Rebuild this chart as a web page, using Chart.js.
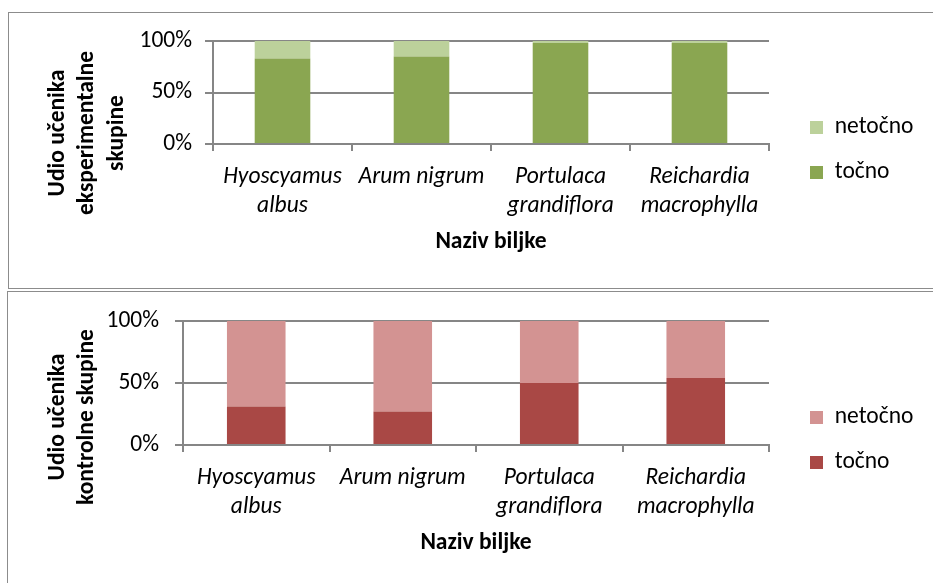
<!DOCTYPE html>
<html>
<head>
<meta charset="utf-8">
<script src="https://cdn.jsdelivr.net/npm/chart.js@4/dist/chart.umd.min.js"></script>
<style>
  html, body { margin: 0; padding: 0; background: #fff; }
  body { width: 933px; height: 583px; overflow: hidden; position: relative; }
  .frame { position: absolute; border: 1px solid #8c8c8c; box-sizing: border-box; }
  canvas { position: absolute; }
</style>
</head>
<body>
<div class="frame" style="left:8px; top:12px; width:1000px; height:277px;"></div>
<div class="frame" style="left:7px; top:291px; width:1000px; height:400px;"></div>
<canvas id="expChart" width="930" height="276" style="left:9px; top:13px;"></canvas>
<canvas id="ctrlChart" width="930" height="290" style="left:8px; top:291px;"></canvas>
<script>
const categories = [['Hyoscyamus', 'albus'], ['Arum nigrum'], ['Portulaca', 'grandiflora'], ['Reichardia', 'macrophylla']];
const seriesNames = ['točno', 'netočno'];
const expCorrect = [83, 85, 98, 98];
const expWrong = [17, 15, 2, 2];
const ctrlCorrect = [31, 27, 50, 54];
const ctrlWrong = [69, 73, 50, 46];
const yTickValues = [0, 50, 100];

const FONT = "'Carlito', 'Open Sans', sans-serif";
const SIZE = 23.5;
const GRID = '#868686';
const LEGEND_PAD = 21.5;
const GAP_W = 19.5;

// legend width depends on the text, so measure it to keep the plot edge fixed
const measureCtx = document.createElement('canvas').getContext('2d');
measureCtx.font = SIZE + 'px ' + FONT;
const legendTextW = Math.max(...seriesNames.map(n => measureCtx.measureText(n).width));
const legendW = LEGEND_PAD + 13 + SIZE / 2 + legendTextW + 10;

// rotated y-axis caption, centred on the whole frame like the original
const sideCaption = {
    id: 'sideCaption',
    afterDraw(chart, args, opts) {
        const ctx = chart.ctx;
        ctx.save();
        ctx.font = 'bold ' + SIZE + 'px ' + FONT;
        ctx.fillStyle = '#000';
        ctx.textAlign = 'center';
        ctx.textBaseline = 'middle';
        opts.lines.forEach((line, i) => {
            ctx.save();
            ctx.translate(opts.x + i * opts.gap, opts.y);
            ctx.rotate(-Math.PI / 2);
            ctx.fillText(line, 0, 0);
            ctx.restore();
        });
        ctx.restore();
    }
};

function buildChart(id, cfg) {
    const canvas = document.getElementById(id);
    const padRight = canvas.width - cfg.plotRight - GAP_W - legendW;
    return new Chart(canvas, {
        type: 'bar',
        data: {
            labels: categories,
            datasets: [
                { label: seriesNames[0], data: cfg.correct, backgroundColor: cfg.dark, yAxisID: 'y' },
                { label: seriesNames[1], data: cfg.wrong, backgroundColor: cfg.light, yAxisID: 'y' }
            ]
        },
        options: {
            responsive: false,
            animation: false,
            devicePixelRatio: 1,
            datasets: { bar: { barPercentage: 0.4, categoryPercentage: 1 } },
            layout: { padding: { top: cfg.padTop, bottom: cfg.padBottom, left: 0, right: padRight } },
            scales: {
                x: {
                    stacked: true,
                    grid: { drawOnChartArea: false, color: GRID, lineWidth: 2, tickLength: 7 },
                    border: { color: GRID, width: 2 },
                    ticks: {
                        color: '#000',
                        font: { family: FONT, size: SIZE, style: 'italic', lineHeight: 1.255 },
                        padding: 11,
                        maxRotation: 0,
                        autoSkip: false
                    },
                    title: {
                        display: true,
                        text: 'Naziv biljke',
                        color: '#000',
                        font: { family: FONT, size: SIZE, weight: 'bold' },
                        padding: { top: 0, bottom: cfg.titlePad }
                    },
                    afterFit: s => { s.height = cfg.xHeight; }
                },
                y: {
                    stacked: true,
                    min: 0,
                    max: 100,
                    afterBuildTicks: s => { s.ticks = yTickValues.map(v => ({ value: v })); },
                    ticks: {
                        color: '#000',
                        font: { family: FONT, size: SIZE },
                        padding: cfg.yPad,
                        callback: v => v + '%'
                    },
                    grid: { color: GRID, lineWidth: 2, tickLength: 8 },
                    border: { color: GRID, width: 2 },
                    afterFit: s => { s.width = cfg.yWidth; }
                },
                gap: {
                    position: 'right',
                    display: true,
                    grid: { display: false },
                    border: { display: false },
                    ticks: { display: false },
                    afterFit: s => { s.width = GAP_W; }
                }
            },
            plugins: {
                legend: {
                    position: 'right',
                    reverse: true,
                    labels: {
                        boxWidth: 13,
                        boxHeight: 13,
                        padding: LEGEND_PAD,
                        color: '#000',
                        font: { family: FONT, size: SIZE }
                    }
                },
                tooltip: { enabled: false },
                sideCaption: cfg.caption
            }
        },
        plugins: [sideCaption]
    });
}

buildChart('expChart', {
    correct: expCorrect,
    wrong: expWrong,
    dark: '#8AA651',
    light: '#BCD19B',
    padTop: 28,
    padBottom: 30,
    plotRight: 760,
    yWidth: 204,
    xHeight: 115,
    yPad: 13,
    titlePad: 3,
    caption: { lines: ['Udio učenika', 'eksperimentalne', 'skupine'], x: 49, gap: 29.5, y: 120 }
});

buildChart('ctrlChart', {
    correct: ctrlCorrect,
    wrong: ctrlWrong,
    dark: '#A94845',
    light: '#D39392',
    padTop: 30,
    padBottom: 22,
    plotRight: 761,
    yWidth: 175,
    xHeight: 114,
    yPad: 16,
    titlePad: 2,
    caption: { lines: ['Udio učenika', 'kontrolne skupine'], x: 50, gap: 29.5, y: 126 }
});
</script>
</body>
</html>
